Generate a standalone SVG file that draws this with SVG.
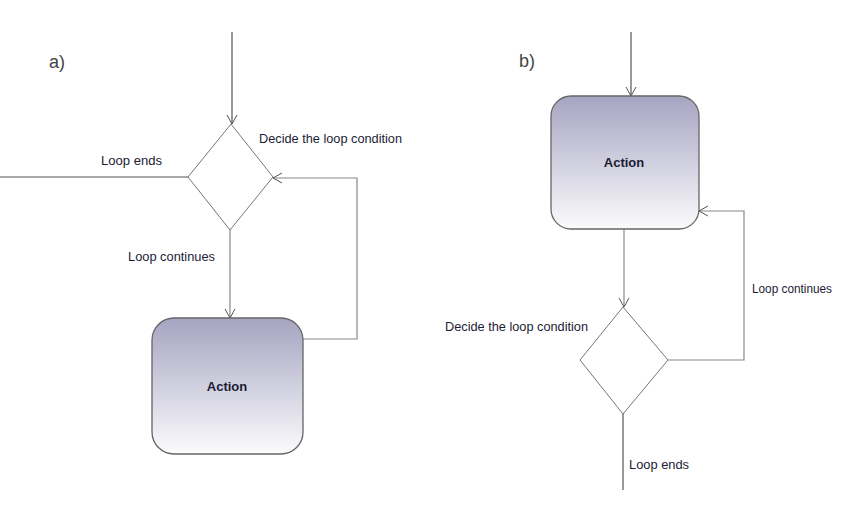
<svg xmlns="http://www.w3.org/2000/svg" width="850" height="520" viewBox="0 0 850 520">
<defs>
<linearGradient id="g" x1="0" y1="0" x2="0" y2="1">
<stop offset="0" stop-color="#a6a4c1"/>
<stop offset="1" stop-color="#fbfbfd"/>
</linearGradient>
<marker id="arr" markerWidth="12" markerHeight="12" refX="10" refY="6" orient="auto" markerUnits="userSpaceOnUse">
<path d="M1,1 L10,6 L1,11" fill="none" stroke="#555" stroke-width="1"/>
</marker>
<style>
.t{font-family:"Liberation Sans",Arial,sans-serif;font-size:13px;fill:#1c1c36}
.b{font-family:"Liberation Sans",Arial,sans-serif;font-size:13px;font-weight:bold;fill:#1c1c36}
.lab{font-family:"Liberation Sans",Arial,sans-serif;font-size:18px;fill:#444}
.box{fill:url(#g);stroke:#666;stroke-width:1.3}
.dia{fill:#fff;stroke:#777;stroke-width:1}
.c{fill:none;stroke:#555;stroke-width:1.2}
.cl{fill:none;stroke:#888;stroke-width:1.2}
</style>
</defs>
<rect width="850" height="520" fill="#fff"/>
<text class="lab" x="49" y="68">a)</text>
<text class="lab" x="519" y="67">b)</text>
<g id="connectors">
<line class="c" x1="232" y1="32" x2="232" y2="124" marker-end="url(#arr)"/>
<line class="c" x1="0" y1="177" x2="188" y2="177"/>
<line class="cl" x1="230" y1="230" x2="230" y2="318" marker-end="url(#arr)"/>
<polyline class="cl" points="303,339 357,339 357,178 273,178" marker-end="url(#arr)"/>
<line class="c" x1="631" y1="32" x2="631" y2="96" marker-end="url(#arr)"/>
<line class="cl" x1="624" y1="229" x2="624" y2="307" marker-end="url(#arr)"/>
<polyline class="cl" points="668,360 744,360 744,211 699,211" marker-end="url(#arr)"/>
<line class="c" x1="623" y1="414" x2="623" y2="490"/>
</g>
<g id="a-decision">
<polygon class="dia" points="231,124 273,177 230,230 188,177"/>
</g>
<g id="a-action">
<rect class="box" x="152" y="318" width="151" height="136" rx="22" ry="22"/>
<text class="b" x="227" y="391" text-anchor="middle">Action</text>
</g>
<g id="b-action">
<rect class="box" x="551" y="96" width="148" height="133" rx="20" ry="20"/>
<text class="b" x="624" y="167" text-anchor="middle">Action</text>
</g>
<g id="b-decision">
<polygon class="dia" points="623,307 668,360 623,414 580,360"/>
</g>
<g id="labels">
<text class="t" x="259" y="143" textLength="143" lengthAdjust="spacingAndGlyphs">Decide the loop condition</text>
<text class="t" x="101" y="165" textLength="61" lengthAdjust="spacingAndGlyphs">Loop ends</text>
<text class="t" x="128" y="261" textLength="87" lengthAdjust="spacingAndGlyphs">Loop continues</text>
<text class="t" x="752" y="293" textLength="80" lengthAdjust="spacingAndGlyphs">Loop continues</text>
<text class="t" x="445" y="331" textLength="143" lengthAdjust="spacingAndGlyphs">Decide the loop condition</text>
<text class="t" x="629" y="469" textLength="60" lengthAdjust="spacingAndGlyphs">Loop ends</text>
</g>
</svg>
